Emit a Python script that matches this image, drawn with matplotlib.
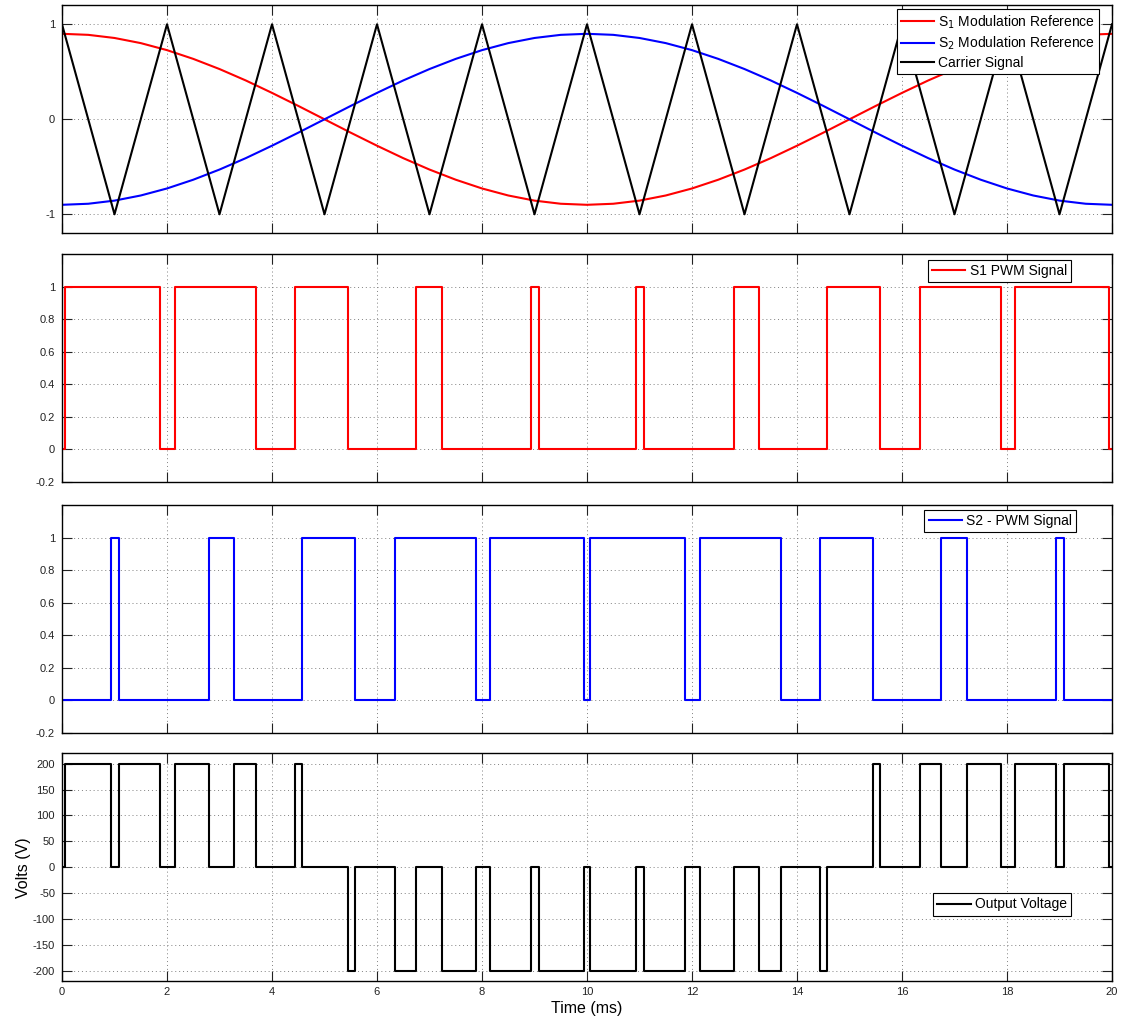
import numpy as np
import matplotlib.pyplot as plt

plt.rcParams['font.family'] = ['Liberation Sans', 'DejaVu Sans']
plt.rcParams['axes.unicode_minus'] = False

# time axis (ms)
t_end = 20.0

# modulation references, sampled every 0.5 ms
ref_t = [0.0, 0.5, 1.0, 1.5, 2.0, 2.5, 3.0, 3.5, 4.0, 4.5, 5.0, 5.5, 6.0, 6.5,
         7.0, 7.5, 8.0, 8.5, 9.0, 9.5, 10.0, 10.5, 11.0, 11.5, 12.0, 12.5,
         13.0, 13.5, 14.0, 14.5, 15.0, 15.5, 16.0, 16.5, 17.0, 17.5, 18.0,
         18.5, 19.0, 19.5, 20.0]
s1_ref = [0.900, 0.889, 0.856, 0.802, 0.728, 0.636, 0.529, 0.409, 0.278, 0.141,
          0.000, -0.141, -0.278, -0.409, -0.529, -0.636, -0.728, -0.802, -0.856,
          -0.889, -0.900, -0.889, -0.856, -0.802, -0.728, -0.636, -0.529, -0.409,
          -0.278, -0.141, 0.000, 0.141, 0.278, 0.409, 0.529, 0.636, 0.728, 0.802,
          0.856, 0.889, 0.900]
s2_ref = [-0.900, -0.889, -0.856, -0.802, -0.728, -0.636, -0.529, -0.409, -0.278,
          -0.141, 0.000, 0.141, 0.278, 0.409, 0.529, 0.636, 0.728, 0.802, 0.856,
          0.889, 0.900, 0.889, 0.856, 0.802, 0.728, 0.636, 0.529, 0.409, 0.278,
          0.141, 0.000, -0.141, -0.278, -0.409, -0.529, -0.636, -0.728, -0.802,
          -0.856, -0.889, -0.900]

# triangular carrier vertices
carrier_t = [0, 1, 2, 3, 4, 5, 6, 7, 8, 9, 10, 11, 12, 13, 14, 15, 16, 17, 18, 19, 20]
carrier_v = [1, -1, 1, -1, 1, -1, 1, -1, 1, -1, 1, -1, 1, -1, 1, -1, 1, -1, 1, -1, 1]

# PWM switching instants (ms), both signals start low
s1_edges = [0.05, 1.87, 2.15, 3.69, 4.43, 5.45, 6.75, 7.23, 8.94, 9.08,
            10.94, 11.08, 12.80, 13.28, 14.58, 15.59, 16.34, 17.88, 18.15, 19.95]
s2_edges = [0.94, 1.08, 2.80, 3.28, 4.58, 5.59, 6.34, 7.88, 8.15, 9.95,
            10.05, 11.87, 12.15, 13.69, 14.43, 15.45, 16.75, 17.23, 18.94, 19.08]
v_dc = 200

ref_yticks = [-1, 0, 1]
pwm_yticks = [-0.2, 0, 0.2, 0.4, 0.6, 0.8, 1]
pwm_yticklabels = ['-0.2', '0', '0.2', '0.4', '0.6', '0.8', '1']
volt_yticks = [-200, -150, -100, -50, 0, 50, 100, 150, 200]
xticks = [0, 2, 4, 6, 8, 10, 12, 14, 16, 18, 20]


def state_at(edges, times):
    return np.searchsorted(np.array(edges), np.array(times), side='right') % 2


def step_series(edges):
    t = [0.0] + edges + [t_end]
    return t, state_at(edges, t)


t1, v1 = step_series(s1_edges)
t2, v2 = step_series(s2_edges)
t_out = [0.0] + sorted(set(s1_edges + s2_edges)) + [t_end]
v_out = v_dc * (state_at(s1_edges, t_out) - state_at(s2_edges, t_out))

W, H = 1124, 1021
fig = plt.figure(figsize=(W / 100, H / 100), dpi=100)
left, width = 62 / W, 1050 / W
tops = [5.3, 254, 505, 753.3]
axh = 228
axes = [fig.add_axes([left, 1 - (tp + axh) / H, width, axh / H]) for tp in tops]

for ax in axes:
    ax.set_xlim(0, t_end)
    ax.set_xticks(xticks)
    ax.grid(True, color='#808080', linestyle=(0, (1, 3)), linewidth=0.7)
    ax.set_axisbelow(True)
    ax.tick_params(direction='in', length=7.5, width=0.8, top=True, right=True,
                   labelsize=8, colors='#222222', pad=5)
    for sp in ax.spines.values():
        sp.set_linewidth(1.0)
    if ax is not axes[-1]:
        ax.tick_params(labelbottom=False)

leg_kw = dict(fontsize=10, fancybox=False, framealpha=1, edgecolor='black',
              borderpad=0.3, handlelength=2.4, handletextpad=0.3,
              labelspacing=0.3, borderaxespad=0)

ax = axes[0]
ax.plot(ref_t, s1_ref, color='red', lw=1.5, label='S$_1$ Modulation Reference')
ax.plot(ref_t, s2_ref, color='blue', lw=1.5, label='S$_2$ Modulation Reference')
ax.plot(carrier_t, carrier_v, color='black', lw=1.5, label='Carrier Signal')
ax.set_ylim(-1.2, 1.2)
ax.set_yticks(ref_yticks)
ax.legend(loc='upper right', bbox_to_anchor=(0.988, 0.984), **leg_kw).get_frame().set_linewidth(0.8)

ax = axes[1]
ax.plot(t1, v1, color='red', lw=1.5, drawstyle='steps-post', label='S1 PWM Signal')
ax.set_ylim(-0.2, 1.2)
ax.set_yticks(pwm_yticks)
ax.set_yticklabels(pwm_yticklabels)
ax.legend(loc='upper right', bbox_to_anchor=(0.961, 0.974), **leg_kw).get_frame().set_linewidth(0.8)

ax = axes[2]
ax.plot(t2, v2, color='blue', lw=1.5, drawstyle='steps-post', label='S2 - PWM Signal')
ax.set_ylim(-0.2, 1.2)
ax.set_yticks(pwm_yticks)
ax.set_yticklabels(pwm_yticklabels)
ax.legend(loc='upper right', bbox_to_anchor=(0.966, 0.978), **leg_kw).get_frame().set_linewidth(0.8)

ax = axes[3]
ax.plot(t_out, v_out, color='black', lw=1.5, drawstyle='steps-post', label='Output Voltage')
ax.set_ylim(-220, 220)
ax.set_yticks(volt_yticks)
ax.set_xticklabels([str(x) for x in xticks])
ax.tick_params(axis='x', pad=4)
ax.set_xlabel('Time (ms)', fontsize=11.5, labelpad=3)
ax.set_ylabel('Volts (V)', fontsize=11.5, labelpad=1)
ax.legend(loc='upper right', bbox_to_anchor=(0.961, 0.386), **leg_kw).get_frame().set_linewidth(0.8)

fig.savefig('out.png', dpi=100)
